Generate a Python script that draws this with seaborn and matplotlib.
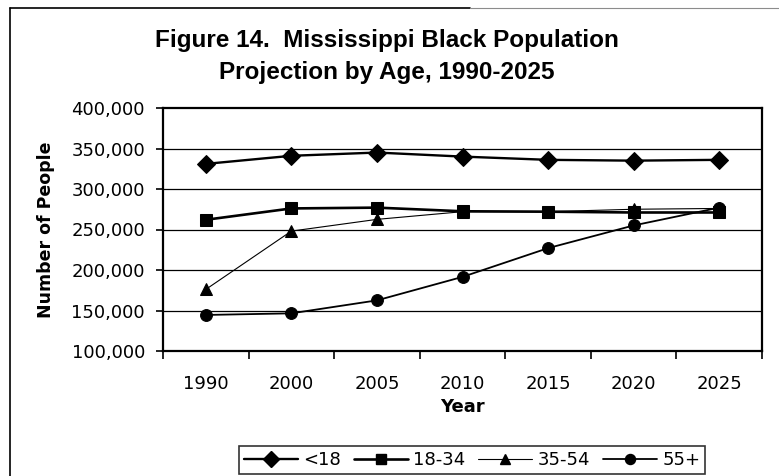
"""
Figura 14: proyección de la población negra de Mississippi por edad, 1990-2025
"""

import pandas as pd
import matplotlib
matplotlib.use("Agg")
import matplotlib.pyplot as plt
from matplotlib.lines import Line2D
from matplotlib.ticker import FuncFormatter, FixedLocator
import seaborn as sns

# Datos
anios = ["1990", "2000", "2005", "2010", "2015", "2020", "2025"]
menores_18 = [331000, 341000, 345000, 340000, 336000, 335000, 336000]
de_18_34 = [262000, 276000, 277000, 272500, 272000, 271000, 271000]
de_35_54 = [176000, 248000, 262500, 272000, 272000, 275000, 276000]
mayores_55 = [144500, 146500, 162500, 191500, 227000, 255000, 277000]

series = ["<18", "18-34", "35-54", "55+"]
valores = [menores_18, de_18_34, de_35_54, mayores_55]
marcadores = {"<18": "D", "18-34": "s", "35-54": "^", "55+": "o"}
tam_marcador = {"<18": 9.5, "18-34": 9, "35-54": 8, "55+": 8.5}
grosor = {"<18": 1.7, "18-34": 1.9, "35-54": 0.8, "55+": 1.3}

# Tabla larga para seaborn
filas = []
for nombre, vals in zip(series, valores):
    for i, (anio, v) in enumerate(zip(anios, vals)):
        filas.append({"pos": i, "anio": anio, "grupo": nombre, "personas": v})
df = pd.DataFrame(filas)

sns.set_style("white")
plt.rcParams["font.family"] = ["DejaVu Sans"]
plt.rcParams["text.color"] = "black"
plt.rcParams["axes.labelcolor"] = "black"
plt.rcParams["xtick.color"] = "black"
plt.rcParams["ytick.color"] = "black"

fig = plt.figure(figsize=(7.79, 4.76), dpi=100)
ax = fig.add_axes([163 / 779, 1 - 351 / 476, (762 - 163) / 779, (351 - 108) / 476])

# Líneas horizontales de referencia
for y in [150000, 200000, 250000, 300000, 350000]:
    ax.axhline(y, color="black", linewidth=0.9, zorder=1)

for nombre in series:
    sub = df[df["grupo"] == nombre]
    sns.lineplot(data=sub, x="pos", y="personas", ax=ax, color="black",
                 linewidth=grosor[nombre], marker=marcadores[nombre],
                 markersize=tam_marcador[nombre], markeredgecolor="black",
                 label=nombre, legend=False, zorder=3)

ax.set_xlim(-0.5, len(anios) - 0.5)
ax.set_ylim(100000, 400000)

# Eje X: marcas en los límites de categoría, etiquetas en el centro
ax.xaxis.set_major_locator(FixedLocator([i - 0.5 for i in range(len(anios) + 1)]))
ax.xaxis.set_minor_locator(FixedLocator(list(range(len(anios)))))
ax.set_xticklabels([], minor=False)
ax.set_xticklabels(anios, minor=True)
ax.tick_params(axis="x", which="major", direction="out", length=6, width=1.2, color="black", bottom=True)
ax.tick_params(axis="x", which="minor", length=0, labelsize=13, pad=17, labelcolor="black")

ax.set_yticks([100000, 150000, 200000, 250000, 300000, 350000, 400000])
ax.yaxis.set_major_formatter(FuncFormatter(lambda v, p: f"{int(v):,}"))
ax.tick_params(axis="y", direction="out", length=5, width=1.2, color="black",
               left=True, labelsize=13, pad=8, labelcolor="black")

for lado in ["left", "bottom", "right", "top"]:
    ax.spines[lado].set_color("black")
    ax.spines[lado].set_linewidth(1.6)

ax.set_xlabel("Year", fontsize=13, fontweight="bold", labelpad=4, color="black")
ax.set_ylabel("Number of People", fontsize=12.5, fontweight="bold", labelpad=12, color="black")

# Título
fig.text(0.497, 1 - 40 / 476, "Figure 14.  Mississippi Black Population",
         ha="center", va="center", fontsize=17.5, fontweight="bold",
         family="Liberation Sans", color="black")
fig.text(0.497, 1 - 72 / 476, "Projection by Age, 1990-2025",
         ha="center", va="center", fontsize=17.5, fontweight="bold",
         family="Liberation Sans", color="black")

# Leyenda
handles = [Line2D([], [], color="black", linewidth=grosor[n], marker=marcadores[n],
                  markersize=tam_marcador[n] * 0.85) for n in series]
leg = fig.legend(handles, series, loc="center", bbox_to_anchor=(472 / 779, 1 - 460 / 476),
                 ncol=4, fontsize=13, frameon=True, fancybox=False, edgecolor="black",
                 handlelength=3.0, handletextpad=0.3, columnspacing=0.7, borderpad=0.25,
                 labelcolor="black")
leg.get_frame().set_linewidth(1.2)

# Marco exterior del gráfico
fig.add_artist(Line2D([10 / 779, 10 / 779], [0, 1 - 8 / 476], color="black", linewidth=1.2))
fig.add_artist(Line2D([10 / 779, 470 / 779], [1 - 8 / 476, 1 - 8 / 476], color="black", linewidth=1.2))
fig.add_artist(Line2D([470 / 779, 1], [1 - 8 / 476, 1 - 8 / 476], color="0.55", linewidth=0.8))

fig.savefig("out.png", dpi=100)
